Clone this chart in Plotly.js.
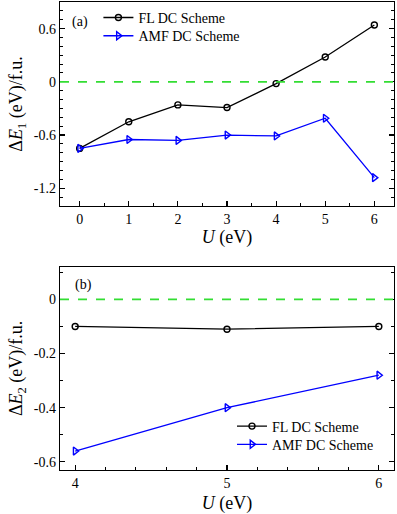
<!DOCTYPE html>
<html>
<head>
<meta charset="utf-8">
<script src="https://cdn.plot.ly/plotly-3.0.1.min.js"></script>
<style>
html,body{margin:0;padding:0;background:#fff;}
#chart{width:397px;height:514px;}
</style>
</head>
<body>
<div id="chart"></div>
<script>
// Panel (a)
var uA = [0, 1, 2, 3, 4, 5, 6];
var flA = [-0.75, -0.45, -0.26, -0.29, -0.02, 0.28, 0.64];
var amfA = [-0.75, -0.65, -0.66, -0.60, -0.61, -0.41, -1.08];
// Panel (b)
var uB = [4, 5, 6];
var flB = [-0.10, -0.11, -0.10];
var amfB = [-0.56, -0.40, -0.28];
// Tick labels
var xTicksA = [0, 1, 2, 3, 4, 5, 6];
var xTickTextA = ['0', '1', '2', '3', '4', '5', '6'];
var yTicksA = [-1.2, -0.6, 0, 0.6];
var yTickTextA = ['-1.2', '-0.6', '0', '0.6'];
var xTicksB = [4, 5, 6];
var xTickTextB = ['4', '5', '6'];
var yTicksB = [-0.6, -0.4, -0.2, 0];
var yTickTextB = ['-0.6', '-0.4', '-0.2', '0'];
var seriesNames = ['FL DC Scheme', 'AMF DC Scheme'];

var FONT = 'Liberation Serif';
var black = '#000000', blue = '#0000ff', green = '#33dd33';

function f(size) { return {family: FONT, size: size, color: black}; }

var flStyle = {mode: 'lines+markers', line: {color: black, width: 1.3},
  marker: {symbol: 'circle-open', size: 6, color: black, line: {width: 1.4}}};
var amfStyle = {mode: 'lines+markers', line: {color: blue, width: 1.3},
  marker: {symbol: 'triangle-right-open', size: 7, color: blue, line: {width: 1.4}}};

function tr(x, y, name, xa, ya, leg, style) {
  var t = {x: x, y: y, name: name, xaxis: xa, yaxis: ya, legend: leg};
  for (var k in style) t[k] = style[k];
  return t;
}

var traces = [
  tr(uA, flA, seriesNames[0], 'x', 'y', 'legend', flStyle),
  tr(uA, amfA, seriesNames[1], 'x', 'y', 'legend3', amfStyle),
  tr(uB, flB, seriesNames[0], 'x2', 'y2', 'legend2', flStyle),
  tr(uB, amfB, seriesNames[1], 'x2', 'y2', 'legend4', amfStyle)
];

function axisBase(extra, minorDtick) {
  var a = {
    showgrid: false, zeroline: false, showline: true, linecolor: black, linewidth: 1.3,
    ticks: 'inside', ticklen: 5, tickwidth: 1.2, tickcolor: black,
    tickfont: f(14), tickmode: 'array',
    minor: {ticks: 'inside', ticklen: 3, tickwidth: 1, tickcolor: black, showgrid: false,
            dtick: minorDtick, tick0: 0}
  };
  for (var k in extra) a[k] = extra[k];
  return a;
}

var xa = axisBase({
  domain: [0, 1], range: [-0.4, 6.4], anchor: 'y', mirror: true,
  tickvals: xTicksA, ticktext: xTickTextA,
  title: {text: '<i>U</i> (eV)', font: f(18), standoff: 4}
}, 0.5);
var ya = axisBase({
  domain: [0.564, 1], range: [-1.4, 0.9], anchor: 'x', mirror: 'ticks',
  tickvals: yTicksA, ticktext: yTickTextA,
  title: {text: 'Δ<i>E</i><sub>1</sub> (eV)/f.u.', font: f(18), standoff: 6}
}, 0.1);
var xb = axisBase({
  domain: [0, 1], range: [3.9, 6.1], anchor: 'y2', mirror: true,
  tickvals: xTicksB, ticktext: xTickTextB,
  title: {text: '<i>U</i> (eV)', font: f(18), standoff: 6}
}, 0.2);
var yb = axisBase({
  domain: [0, 0.434], range: [-0.63, 0.12], anchor: 'x2', mirror: 'ticks',
  tickvals: yTicksB, ticktext: yTickTextB,
  title: {text: 'Δ<i>E</i><sub>2</sub> (eV)/f.u.', font: f(18), standoff: 6}
}, 0.1);

function leg(x, y) {
  return {x: x, y: y, xanchor: 'left', yanchor: 'middle', bgcolor: 'rgba(0,0,0,0)',
    font: f(14), itemwidth: 30, borderwidth: 0};
}

var layout = {
  width: 397, height: 514,
  margin: {l: 60, r: 3, t: 2, b: 44},
  paper_bgcolor: '#ffffff', plot_bgcolor: '#ffffff',
  font: f(14),
  showlegend: true,
  xaxis: xa, yaxis: ya, xaxis2: xb, yaxis2: yb,
  legend: leg(0.115, 0.966),
  legend3: leg(0.115, 0.927),
  legend2: leg(0.515, 0.093),
  legend4: leg(0.515, 0.054),
  shapes: [
    {type: 'line', xref: 'x domain', yref: 'y', x0: 0, x1: 1, y0: 0, y1: 0,
     line: {color: green, width: 1.6, dash: 'dash'}},
    {type: 'line', xref: 'x2 domain', yref: 'y2', x0: 0, x1: 1, y0: 0, y1: 0,
     line: {color: green, width: 1.6, dash: 'dash'}}
  ],
  annotations: [
    {text: '(a)', xref: 'x domain', yref: 'y domain', x: 0.03, y: 0.95, xanchor: 'left', yanchor: 'top',
     showarrow: false, font: f(14)},
    {text: '(b)', xref: 'x2 domain', yref: 'y2 domain', x: 0.04, y: 0.96, xanchor: 'left', yanchor: 'top',
     showarrow: false, font: f(14)}
  ]
};

Plotly.newPlot('chart', traces, layout, {displayModeBar: false, staticPlot: true});
</script>
</body>
</html>
